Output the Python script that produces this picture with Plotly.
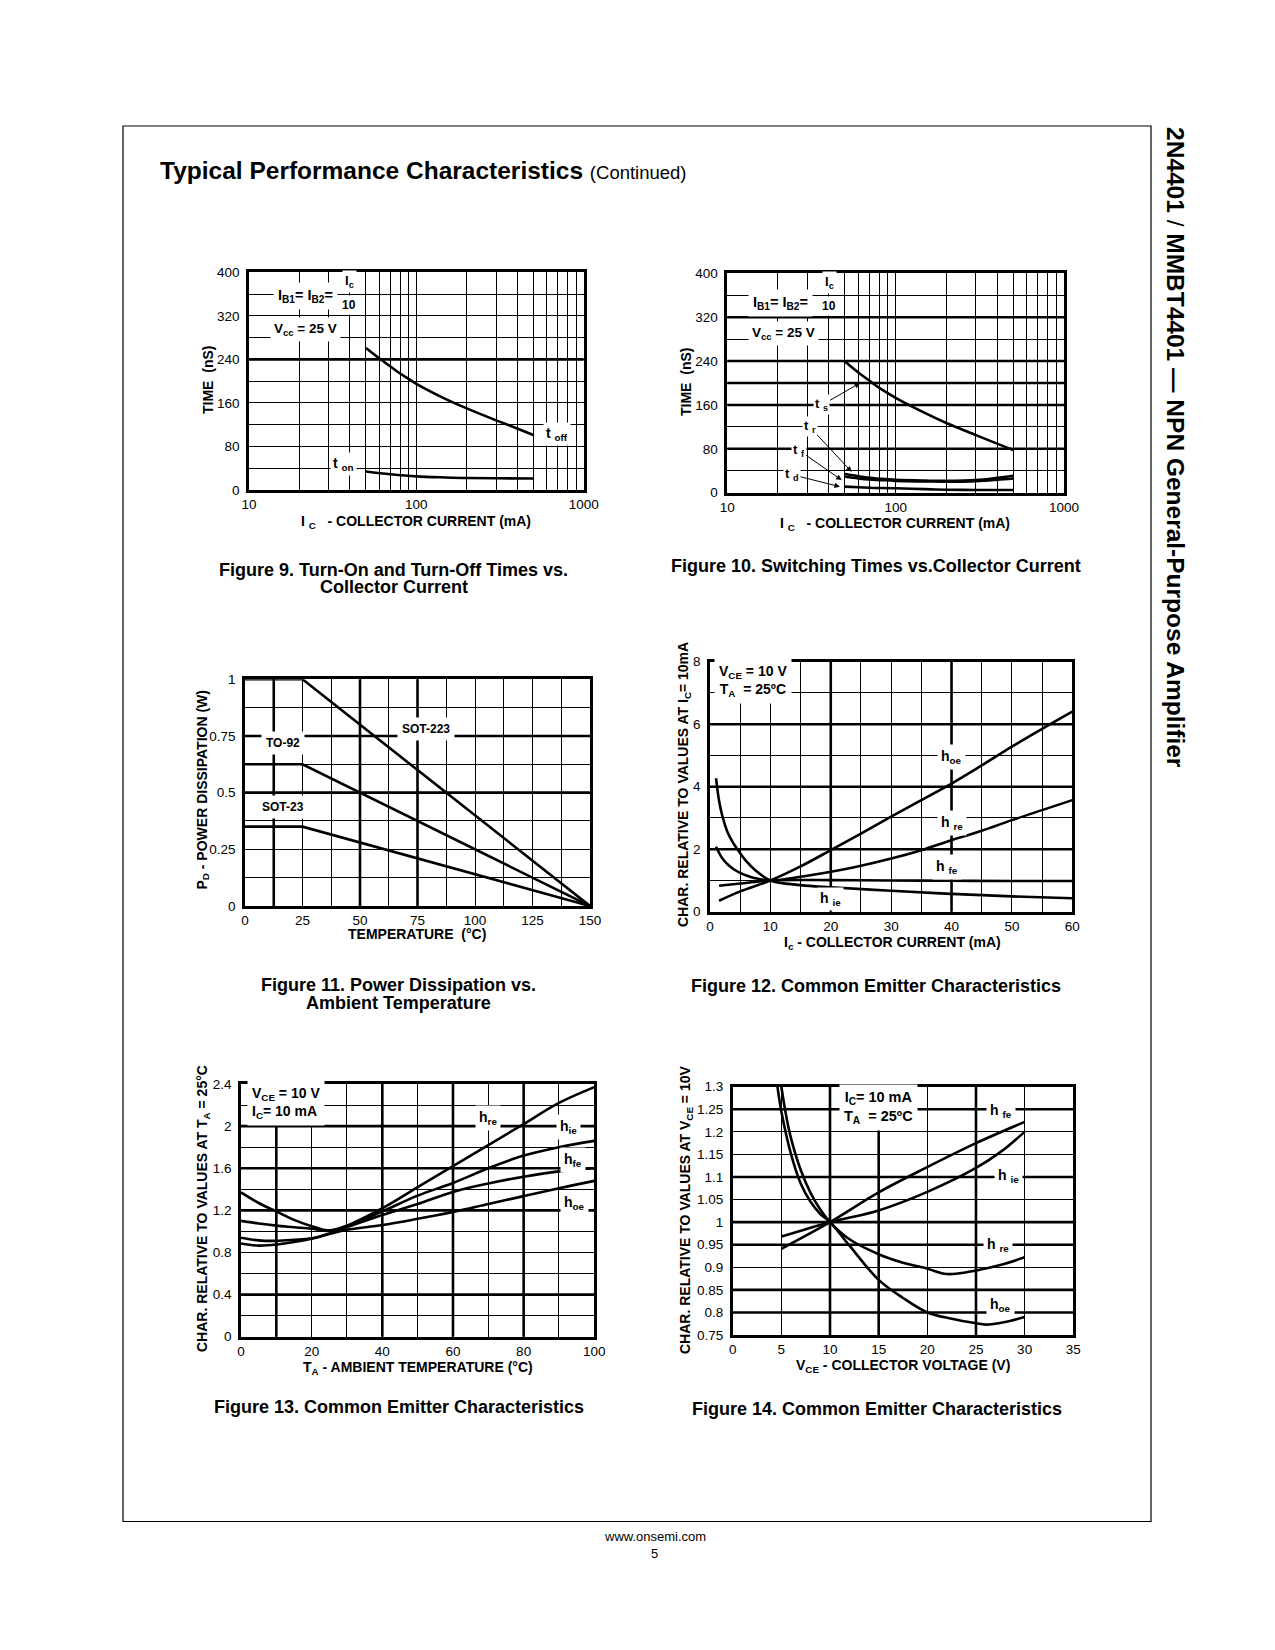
import math
import plotly.graph_objects as go

# ======================= DATA =======================
# Figure 9 - turn-on / turn-off times vs collector current (ns)
fig9_ic_toff = [50, 60, 70, 80, 90, 100, 150, 200, 300, 400, 500]
fig9_toff_ns = [261, 242, 227, 214, 204, 195, 167, 150, 128, 113, 101]
fig9_ic_ton = [50, 70, 100, 150, 200, 300, 500]
fig9_ton_ns = [34, 29, 25, 23, 22, 21.5, 21]

# Figure 10 - switching times vs collector current (ns)
fig10_ic = [50, 60, 70, 80, 100, 150, 200, 300, 400, 500]
fig10_ts_ns = [239, 219, 204, 191, 173, 145, 127, 105, 89.5, 78]
fig10_tr_ns = [34, 30, 27, 25.5, 23.5, 22, 21.5, 23, 27, 31]
fig10_tf_ns = [29, 26, 24, 23, 21.5, 20.5, 20, 21, 23.5, 26]
fig10_td_ns = [11, 10, 9, 8.5, 8, 6.5, 5.5, 5, 5, 5]

# Figure 11 - power dissipation vs ambient temperature (W)
fig11_temp_c = [0, 25, 150]
fig11_sot223_w = [1.0, 1.0, 0.0]
fig11_to92_w = [0.625, 0.625, 0.0]
fig11_sot23_w = [0.35, 0.35, 0.0]

# Figure 12 - h-parameters vs collector current (relative to Ic = 10 mA)
fig12_ic_hoe = [1.5, 5, 10, 15, 20, 25, 30, 35, 40, 45, 50, 55, 60]
fig12_hoe = [0.35, 0.65, 1.0, 1.45, 1.97, 2.5, 3.04, 3.57, 4.1, 4.68, 5.28, 5.85, 6.4]
fig12_ic_hre = [1, 2, 3, 4, 5, 6, 7.5, 10, 15, 20, 25, 30, 35, 40, 45, 50, 55, 60]
fig12_hre = [2.08, 1.72, 1.5, 1.35, 1.24, 1.16, 1.07, 1.0, 1.12, 1.28, 1.47, 1.7,
             1.97, 2.29, 2.59, 2.93, 3.25, 3.57]
fig12_ic_hie = [1, 1.5, 2, 3, 4, 5, 6, 7.5, 10, 15, 20, 30, 40, 50, 60]
fig12_hie = [4.27, 3.55, 3.1, 2.5, 2.15, 1.87, 1.62, 1.33, 1.0, 0.85, 0.78, 0.67, 0.57, 0.49, 0.43]
fig12_ic_hfe = [1.5, 5, 10, 20, 30, 40, 50, 60]
fig12_hfe = [0.83, 0.9, 1.0, 1.01, 1.0, 0.99, 0.98, 0.98]

# Figure 13 - h-parameters vs ambient temperature (relative to 25 C)
fig13_temp_c = [0, 5, 10, 15, 20, 25, 30, 40, 50, 60, 70, 80, 90, 100]
fig13_hre = [1.37, 1.27, 1.19, 1.11, 1.05, 1.01, 1.055, 1.22, 1.42, 1.62, 1.82, 2.02, 2.22, 2.37]
fig13_hie = [1.10, 1.075, 1.055, 1.04, 1.025, 1.005, 1.05, 1.19, 1.34, 1.46, 1.6, 1.72, 1.8, 1.86]
fig13_hfe = [0.94, 0.915, 0.91, 0.92, 0.935, 0.98, 1.04, 1.155, 1.26, 1.375, 1.455, 1.52, 1.57, 1.6]
fig13_hoe = [0.885, 0.865, 0.875, 0.9, 0.93, 0.975, 1.015, 1.06, 1.12, 1.185, 1.26, 1.335, 1.41, 1.48]

# Figure 14 - h-parameters vs collector voltage (relative to Vce = 10 V)
fig14_vce_hoe = [4.6, 5, 6, 7, 8, 9, 10, 12, 15, 17.5, 20, 22.5, 25, 26, 28, 30]
fig14_hoe = [1.3, 1.245, 1.15, 1.085, 1.045, 1.018, 1.0, 0.948, 0.872, 0.832, 0.80, 0.786,
             0.776, 0.773, 0.779, 0.79]
fig14_vce_hre = [5.0, 5.5, 6, 7, 8, 9, 10, 12, 15, 17.5, 20, 22, 25, 27.5, 30]
fig14_hre = [1.3, 1.235, 1.185, 1.115, 1.065, 1.028, 1.0, 0.962, 0.929, 0.91, 0.897, 0.885,
             0.893, 0.905, 0.922]
fig14_vce_hfe = [5, 10, 15, 20, 25, 30]
fig14_hfe = [0.941, 1.0, 1.066, 1.122, 1.175, 1.222]
fig14_vce_hie = [5, 10, 15, 20, 25, 27.5, 30]
fig14_hie = [0.968, 1.0, 1.026, 1.067, 1.12, 1.155, 1.2]

# Tick values / labels
fig9_x_ticks = [10, 100, 1000]
fig9_x_labels = ["10", "100", "1000"]
fig9_y_ticks = [0, 80, 160, 240, 320, 400]
fig9_y_labels = ["0", "80", "160", "240", "320", "400"]
fig11_x_ticks = [0, 25, 50, 75, 100, 125, 150]
fig11_x_labels = ["0", "25", "50", "75", "100", "125", "150"]
fig11_y_ticks = [0, 0.25, 0.5, 0.75, 1]
fig11_y_labels = ["0", "0.25", "0.5", "0.75", "1"]
fig12_x_ticks = [0, 10, 20, 30, 40, 50, 60]
fig12_x_labels = ["0", "10", "20", "30", "40", "50", "60"]
fig12_y_ticks = [0, 2, 4, 6, 8]
fig12_y_labels = ["0", "2", "4", "6", "8"]
fig13_x_ticks = [0, 20, 40, 60, 80, 100]
fig13_x_labels = ["0", "20", "40", "60", "80", "100"]
fig13_y_ticks = [0, 0.4, 0.8, 1.2, 1.6, 2.0, 2.4]
fig13_y_labels = ["0", "0.4", "0.8", "1.2", "1.6", "2", "2.4"]
fig14_x_ticks = [0, 5, 10, 15, 20, 25, 30, 35]
fig14_x_labels = ["0", "5", "10", "15", "20", "25", "30", "35"]
fig14_y_ticks = [0.75, 0.8, 0.85, 0.9, 0.95, 1.0, 1.05, 1.1, 1.15, 1.2, 1.25, 1.3]
fig14_y_labels = ["0.75", "0.8", "0.85", "0.9", "0.95", "1", "1.05", "1.1", "1.15", "1.2", "1.25", "1.3"]

# ======================= LAYOUT HELPERS =======================
W, H = 1275, 1650
FONT = "Liberation Sans, Arial, Helvetica, sans-serif"
LW = 2.6      # curve / frame width
GW = 1.2      # grid width
TW = 2.6      # thick grid width


def dom_x(l, r):
    return [l / W, r / W]


def dom_y(t, b):
    return [1 - b / H, 1 - t / H]


def mids(vals):
    return [(a + b) / 2 for a, b in zip(vals[:-1], vals[1:])]


def log_mids():
    out = []
    for dec in (10, 100):
        out += [dec * k for k in range(2, 10)]
    return out


def axis(dom, rng, tv, tt, minor_vals, log=False, standoff=4):
    a = dict(domain=dom, range=rng, tickmode="array", tickvals=tv, ticktext=tt,
             showline=True, mirror=True, linecolor="black", linewidth=LW,
             zeroline=False, ticks="", showgrid=True, gridcolor="black", gridwidth=GW,
             tickfont=dict(family=FONT, size=13.5, color="black"), fixedrange=True,
             ticklabelstandoff=standoff,
             minor=dict(tickmode="array", tickvals=minor_vals, showgrid=bool(minor_vals),
                        gridcolor="black", gridwidth=GW, ticks=""))
    if log:
        a["type"] = "log"
    return a


fig = go.Figure()


def curve(x, y, xa, ya, shape="spline"):
    fig.add_trace(go.Scatter(x=x, y=y, mode="lines", xaxis=xa, yaxis=ya,
                             line=dict(color="black", width=LW, shape=shape, smoothing=1.0),
                             showlegend=False, hoverinfo="skip"))


# ---------- traces ----------
curve(fig9_ic_toff, fig9_toff_ns, "x", "y")
curve(fig9_ic_ton, fig9_ton_ns, "x", "y")

curve(fig10_ic, fig10_ts_ns, "x2", "y2")
curve(fig10_ic, fig10_tr_ns, "x2", "y2")
curve(fig10_ic, fig10_tf_ns, "x2", "y2")
curve(fig10_ic, fig10_td_ns, "x2", "y2")

curve(fig11_temp_c, fig11_sot223_w, "x3", "y3", "linear")
curve(fig11_temp_c, fig11_to92_w, "x3", "y3", "linear")
curve(fig11_temp_c, fig11_sot23_w, "x3", "y3", "linear")

curve(fig12_ic_hoe, fig12_hoe, "x4", "y4")
curve(fig12_ic_hre, fig12_hre, "x4", "y4")
curve(fig12_ic_hie, fig12_hie, "x4", "y4")
curve(fig12_ic_hfe, fig12_hfe, "x4", "y4")

curve(fig13_temp_c, fig13_hre, "x5", "y5")
curve(fig13_temp_c, fig13_hie, "x5", "y5")
curve(fig13_temp_c, fig13_hfe, "x5", "y5")
curve(fig13_temp_c, fig13_hoe, "x5", "y5")

curve(fig14_vce_hoe, fig14_hoe, "x6", "y6")
curve(fig14_vce_hre, fig14_hre, "x6", "y6")
curve(fig14_vce_hfe, fig14_hfe, "x6", "y6")
curve(fig14_vce_hie, fig14_hie, "x6", "y6")

# ---------- axes ----------
XS = 0  # x tick label standoff
layout_axes = dict(
    xaxis=axis(dom_x(249, 583.7), [1, 3], fig9_x_ticks, fig9_x_labels, log_mids(), log=True, standoff=XS),
    yaxis=axis(dom_y(272.3, 490), [0, 400], fig9_y_ticks, fig9_y_labels, mids(fig9_y_ticks)),
    xaxis2=axis(dom_x(727.3, 1064), [1, 3], fig9_x_ticks, fig9_x_labels, log_mids(), log=True, standoff=XS),
    yaxis2=axis(dom_y(273.3, 492.7), [0, 400], fig9_y_ticks, fig9_y_labels, mids(fig9_y_ticks)),
    xaxis3=axis(dom_x(245, 590), [0, 150], fig11_x_ticks, fig11_x_labels, mids(fig11_x_ticks), standoff=XS),
    yaxis3=axis(dom_y(679.3, 906), [0, 1], fig11_y_ticks, fig11_y_labels, mids(fig11_y_ticks)),
    xaxis4=axis(dom_x(710, 1072.3), [0, 60], fig12_x_ticks, fig12_x_labels, mids(fig12_x_ticks), standoff=XS),
    yaxis4=axis(dom_y(661.7, 911.7), [0, 8], fig12_y_ticks, fig12_y_labels, mids(fig12_y_ticks)),
    xaxis5=axis(dom_x(241, 594.3), [0, 100], fig13_x_ticks, fig13_x_labels, mids(fig13_x_ticks), standoff=XS),
    yaxis5=axis(dom_y(1084, 1336.7), [0, 2.4], fig13_y_ticks, fig13_y_labels, mids(fig13_y_ticks)),
    xaxis6=axis(dom_x(732.7, 1073.3), [0, 35], fig14_x_ticks, fig14_x_labels, [], standoff=XS),
    yaxis6=axis(dom_y(1086.7, 1335), [0.75, 1.3], fig14_y_ticks, fig14_y_labels, []),
)
for i in range(1, 7):
    s = "" if i == 1 else str(i)
    layout_axes["xaxis" + s]["anchor"] = "y" + s
    layout_axes["yaxis" + s]["anchor"] = "x" + s

# ---------- shapes (thick grid lines, frame, fraction bars) ----------
shapes = []


def thick(xa, ya, xs, ys, log=False):
    for v in xs:
        xv = math.log10(v) if log else v
        shapes.append(dict(type="line", xref=xa, yref=ya + " domain", x0=xv, x1=xv, y0=0, y1=1,
                           line=dict(color="black", width=TW), layer="below"))
    for v in ys:
        shapes.append(dict(type="line", xref=xa + " domain", yref=ya, x0=0, x1=1, y0=v, y1=v,
                           line=dict(color="black", width=TW), layer="below"))


thick("x", "y", [100, 800], [240], log=True)
thick("x2", "y2", [30, 70, 100], [320, 240, 200, 160, 80], log=True)
thick("x3", "y3", [12.5, 50, 75], [0.5, 0.75])
thick("x4", "y4", [20, 40], [2, 4, 6])
thick("x5", "y5", [10, 40, 60, 80], [2.0, 1.6, 1.2, 0.4])
thick("x6", "y6", [10, 15, 25], [1.25, 1.1, 1.0, 0.95, 0.85, 0.8])

# page frame
shapes.append(dict(type="rect", xref="paper", yref="paper", x0=123 / W, x1=1151 / W,
                   y0=1 - 1521.5 / H, y1=1 - 126 / H, line=dict(color="black", width=1.2)))

# ---------- annotations ----------
ann = []


def txt(text, x, y, xref="paper", yref="paper", size=14, bg=False, pad=1, angle=0,
        xanchor="center", yanchor="middle", align="center", **kw):
    if xref == "paper":
        x = x / W
    if yref == "paper":
        y = 1 - y / H
    d = dict(text=text, x=x, y=y, xref=xref, yref=yref, showarrow=False, textangle=angle,
             font=dict(family=FONT, size=size, color="black"), xanchor=xanchor, yanchor=yanchor,
             align=align, borderpad=pad, bgcolor="white" if bg else "rgba(0,0,0,0)")
    d.update(kw)
    ann.append(d)


# page title, side title, footer
txt("<b>Typical Performance Characteristics</b> <span style='font-size:18.5px'>(Continued)</span>",
    158, 170, size=24.5, xanchor="left")
txt("<b>2N4401</b> / <b>MMBT4401 — NPN General-Purpose Amplifier</b>", 1176, 447, size=24.5, angle=90)
txt("www.onsemi.com", 655, 1536, size=13)
txt("5", 655, 1553, size=13)

# captions
txt("<b>Figure 9. Turn-On and Turn-Off Times vs.</b>", 393.7, 570, size=18)
txt("<b>Collector Current</b>", 393.7, 587, size=18)
txt("<b>Figure 10. Switching Times vs.Collector Current</b>", 876, 566, size=18)
txt("<b>Figure 11. Power Dissipation vs.</b>", 398.5, 985, size=18)
txt("<b>Ambient Temperature</b>", 398.5, 1003, size=18)
txt("<b>Figure 12. Common Emitter Characteristics</b>", 876, 986, size=18)
txt("<b>Figure 13. Common Emitter Characteristics</b>", 398.5, 1407, size=18)
txt("<b>Figure 14. Common Emitter Characteristics</b>", 876.7, 1409, size=18)

# axis titles
txt("<b>TIME&nbsp;&nbsp;(nS)</b>", 208, 380, angle=-90)
txt("<b>I <sub>C</sub>&nbsp;&nbsp; - COLLECTOR CURRENT (mA)</b>", 416, 521.7)
txt("<b>TIME&nbsp;&nbsp;(nS)</b>", 686, 382, angle=-90)
txt("<b>I <sub>C</sub>&nbsp;&nbsp; - COLLECTOR CURRENT (mA)</b>", 895, 524)
txt("<b>P<sub>D</sub> - POWER DISSIPATION (W)</b>", 202.5, 790, angle=-90)
txt("<b>TEMPERATURE&nbsp;&nbsp;(°C)</b>", 416.5, 934)
txt("<b>CHAR. RELATIVE TO VALUES AT I<sub>C</sub>= 10mA</b>", 684, 785, angle=-90)
txt("<b>I<sub>c</sub> - COLLECTOR CURRENT (mA)</b>", 892, 943)
txt("<b>CHAR. RELATIVE TO VALUES AT T<sub>A</sub> = 25°C</b>", 203, 1209, angle=-90)
txt("<b>T<sub>A</sub> - AMBIENT TEMPERATURE (°C)</b>", 417.5, 1368)
txt("<b>CHAR. RELATIVE TO VALUES AT V<sub>CE</sub> = 10V</b>", 686, 1210, angle=-90)
txt("<b>V<sub>CE</sub> - COLLECTOR VOLTAGE (V)</b>", 903, 1366)

# ---- Figure 9 labels ----
txt("<b>I<sub>B1</sub>= I<sub>B2</sub>=</b>", math.log10(21.85), 356, "x", "y", size=14.5, bg=True, pad=4)
txt("<b>I<sub>c</sub></b>", math.log10(40.1), 362, "x", "y", size=13, bg=True, pad=2, yanchor="bottom")
txt("<b>10</b>", math.log10(39.8), 358, "x", "y", size=12, bg=True, pad=2, yanchor="top")
txt("<b>V<sub>cc</sub> = 25 V</b>", math.log10(21.9), 294, "x", "y", size=13.5, bg=True, pad=3)
txt("<b>t <sub>off</sub></b>", math.log10(692), 103, "x", "y", size=14, bg=True, pad=2)
txt("<b>t <sub>on</sub></b>", math.log10(36.5), 48, "x", "y", size=14, bg=True, pad=2)
shapes.append(dict(type="line", xref="x", yref="y", x0=math.log10(34.0), x1=math.log10(47.3),
                   y0=360, y1=360, line=dict(color="black", width=2)))

# ---- Figure 10 labels ----
txt("<b>I<sub>B1</sub>= I<sub>B2</sub>=</b>", math.log10(20.8), 345, "x2", "y2", size=14.5, bg=True, pad=4)
txt("<b>I<sub>c</sub></b>", math.log10(40.7), 362, "x2", "y2", size=13, bg=True, pad=2, yanchor="bottom")
txt("<b>10</b>", math.log10(40.2), 358, "x2", "y2", size=12, bg=True, pad=2, yanchor="top")
txt("<b>V<sub>cc</sub> = 25 V</b>", math.log10(21.7), 291, "x2", "y2", size=13.5, bg=True, pad=3)
shapes.append(dict(type="line", xref="x2", yref="y2", x0=math.log10(34.6), x1=math.log10(46.7),
                   y0=360, y1=360, line=dict(color="black", width=2)))
for lab, hx, hy, axo, ayo in [("t <sub>s</sub>", 61.4, 200, -38, 22),
                              ("t <sub>r</sub>", 54.8, 38, -42, -45),
                              ("t <sub>f</sub>", 47.8, 23, -43, -30),
                              ("t <sub>d</sub>", 46.7, 11, -48, -12)]:
    ann.append(dict(text="<b>" + lab + "</b>", x=math.log10(hx), y=hy, xref="x2", yref="y2",
                    showarrow=True, arrowhead=2, arrowsize=1.1, arrowwidth=1, arrowcolor="black",
                    ax=axo, ay=ayo, standoff=0,
                    font=dict(family=FONT, size=13, color="black"), bgcolor="white", borderpad=1))

# ---- Figure 11 labels ----
txt("<b>TO-92</b>", 16.7, 0.718, "x3", "y3", size=12, bg=True, pad=4)
txt("<b>SOT-223</b>", 78.7, 0.781, "x3", "y3", size=12, bg=True, pad=4)
txt("<b>SOT-23</b>", 16.4, 0.435, "x3", "y3", size=12, bg=True, pad=4)

# ---- Figure 12 labels ----
txt("<b>V<sub>CE</sub> = 10 V<br>T<sub>A</sub>&nbsp; = 25ºC</b>", 7.2, 7.38, "x4", "y4", size=14, bg=True, pad=4)
txt("<b>h<sub>oe</sub></b>", 40, 4.96, "x4", "y4", size=14, bg=True, pad=3)
txt("<b>h <sub>re</sub></b>", 40, 2.83, "x4", "y4", size=14, bg=True, pad=3)
txt("<b>h <sub>fe</sub></b>", 39.2, 1.44, "x4", "y4", size=14, bg=True, pad=3)
txt("<b>h <sub>ie</sub></b>", 19.9, 0.40, "x4", "y4", size=14, bg=True, pad=2)

# ---- Figure 13 labels ----
txt("<b>V<sub>CE</sub> = 10 V<br>I<sub>C</sub>= 10 mA</b>", 12.6, 2.22, "x5", "y5", size=14, bg=True,
    pad=4, align="left")
txt("<b>h<sub>re</sub></b>", 70, 2.074, "x5", "y5", size=14, bg=True, pad=3)
txt("<b>h<sub>ie</sub></b>", 92.6, 1.994, "x5", "y5", size=14, bg=True, pad=3)
txt("<b>h<sub>fe</sub></b>", 94.1, 1.678, "x5", "y5", size=14, bg=True, pad=3)
txt("<b>h<sub>oe</sub></b>", 94.5, 1.267, "x5", "y5", size=14, bg=True, pad=3)

# ---- Figure 14 labels ----
txt("<b>I<sub>C</sub>= 10 mA<br>T<sub>A</sub>&nbsp; = 25ºC</b>", 14.97, 1.254, "x6", "y6", size=14.5,
    bg=True, pad=4)
txt("<b>h <sub>fe</sub></b>", 27.6, 1.246, "x6", "y6", size=14, bg=True, pad=3)
txt("<b>h <sub>ie</sub></b>", 28.3, 1.103, "x6", "y6", size=14, bg=True, pad=3)
txt("<b>h <sub>re</sub></b>", 27.3, 0.949, "x6", "y6", size=14, bg=True, pad=3)
txt("<b>h<sub>oe</sub></b>", 27.5, 0.816, "x6", "y6", size=14, bg=True, pad=3)

fig.update_layout(
    width=W, height=H, margin=dict(l=0, r=0, t=0, b=0, pad=0, autoexpand=False),
    paper_bgcolor="white", plot_bgcolor="white", showlegend=False,
    font=dict(family=FONT, color="black"),
    shapes=shapes, annotations=ann, **layout_axes,
)

fig.write_html("out.html", config={"displayModeBar": False},
               post_script="document.body.style.margin='0px';")
